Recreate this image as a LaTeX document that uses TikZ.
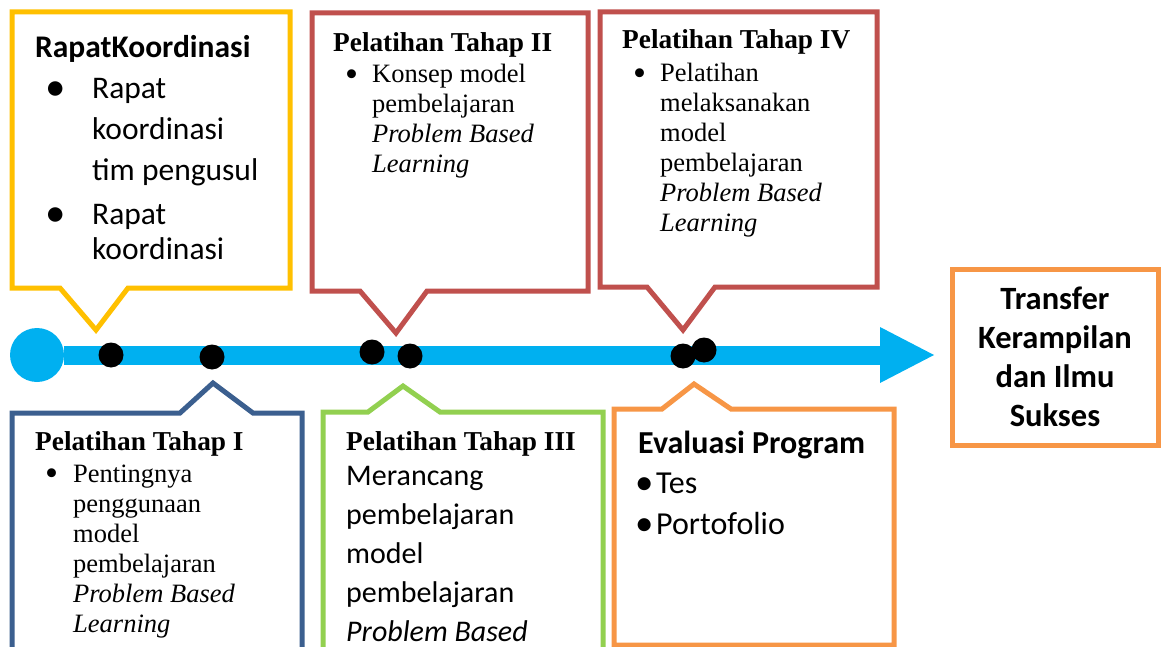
\documentclass[tikz,border=0pt]{standalone}
\usepackage{fontspec}
\setmainfont{Liberation Serif}
\setsansfont{Carlito}
\usepackage{graphicx}
\usepackage{tikz}

\definecolor{lineblue}{HTML}{00B0F0}
\definecolor{boxyellow}{HTML}{FFC000}
\definecolor{boxred}{HTML}{C0504D}
\definecolor{boxblue}{HTML}{3B5F8F}
\definecolor{boxgreen}{HTML}{92D050}
\definecolor{boxorange}{HTML}{F79646}

\newcommand{\serifsize}{\fontsize{26.5}{30}\selectfont}
\newcommand{\sanssize}{\sffamily\fontsize{31.5}{41}\selectfont}
% bullet: indent, box width, scale, lowering
\newcommand{\bul}[4]{\hspace*{#1}\makebox[#2][l]{\raisebox{-#4}{\scalebox{#3}{\textbullet}}}}

\tikzset{
  callout/.style={line width=5pt, line join=miter, fill=white},
  txt/.style={anchor=base west, inner sep=0pt},
  tdot/.style={circle, fill=black, minimum size=25pt, inner sep=0pt}
}

\begin{document}
\begin{tikzpicture}[x=1pt,y=-1pt]
\useasboundingbox (0,0) rectangle (1161,647);
\clip (0,0) rectangle (1161,647);
% callouts above the line:
\path[callout,draw=boxyellow] (12,12) -- (290,12) -- (290,288) -- (128,288) -- (96,330) -- (60,288) -- (12,288) -- cycle;
\path[callout,draw=boxred] (312,13) -- (588,13) -- (588,291) -- (427,291) -- (396,333) -- (360,291) -- (312,291) -- cycle;
\path[callout,draw=boxred] (600,12) -- (877,12) -- (877,287) -- (715,287) -- (683,330) -- (647,287) -- (600,287) -- cycle;
% callouts below the line:
\path[callout,draw=boxblue] (12,700) -- (12,413) -- (180,413) -- (213,383) -- (253,413) -- (302,413) -- (302,700);
\path[callout,draw=boxgreen] (323,700) -- (323,412) -- (368,412) -- (403,386) -- (440,412) -- (603,412) -- (603,700);
\path[callout,draw=boxorange] (614,645) -- (614,409) -- (662,409) -- (694,384) -- (731,409) -- (894,409) -- (894,645) -- cycle;
% result box:
\path[callout,draw=boxorange] (952,269) rectangle (1158,445);

% timeline:
\node[circle, fill=lineblue, minimum size=54pt, inner sep=0pt] (start) at (37,355) {};
\coordinate (headbase) at (880,355);
\coordinate (end) at (934,355);
\draw[lineblue, line width=19pt] (start) -- (headbase);
\fill[lineblue] ([yshift=-28pt]headbase) -- (end) -- ([yshift=28pt]headbase) -- cycle;
\node[tdot] (d1) at (111,355) {};
\node[tdot] (d2) at (212,357) {};
\node[tdot] (d3) at (372,352) {};
\node[tdot] (d4) at (410,356) {};
\node[tdot] (d5) at (683,356) {};
\node[tdot] (d6) at (704,350) {};

% texts:
\node[txt] (rapat) at (35,58) {\parbox[t]{256pt}{\sanssize
  \textbf{RapatKoordinasi}\\
  \bul{10pt}{47pt}{1.3}{1.5pt}Rapat\\
  \hspace*{57pt}koordinasi\\
  \hspace*{57pt}tim pengusul\\[3pt]
  \bul{10pt}{47pt}{1.3}{1.5pt}Rapat\\[-6pt]
  \hspace*{57pt}koordinasi}};
\node[txt] (tahap2) at (333,52) {\parbox[t]{250pt}{\serifsize
  {\fontsize{27.3}{30}\selectfont\textbf{Pelatihan Tahap II}}\\[1pt]
  \bul{12pt}{27pt}{1.4}{3.5pt}Konsep model\\
  \hspace*{39pt}pembelajaran\\
  \hspace*{39pt}\textit{Problem Based}\\
  \hspace*{39pt}\textit{Learning}}};
\node[txt] (tahap4) at (622,49) {\parbox[t]{250pt}{\serifsize
  {\fontsize{27.3}{30}\selectfont\textbf{Pelatihan Tahap IV}}\\[3pt]
  \bul{11pt}{27pt}{1.4}{3.5pt}Pelatihan\\
  \hspace*{38pt}melaksanakan\\
  \hspace*{38pt}model\\
  \hspace*{38pt}pembelajaran\\
  \hspace*{38pt}\textit{Problem Based}\\
  \hspace*{38pt}\textit{Learning}}};
\node[txt] (tahap1) at (35,450) {\parbox[t]{260pt}{\serifsize
  {\fontsize{27.3}{30}\selectfont\textbf{Pelatihan Tahap I}}\\[2pt]
  \bul{10pt}{28pt}{1.4}{3.5pt}Pentingnya\\
  \hspace*{38pt}penggunaan\\
  \hspace*{38pt}model\\
  \hspace*{38pt}pembelajaran\\
  \hspace*{38pt}\textit{Problem Based}\\
  \hspace*{38pt}\textit{Learning}}};
\node[txt] (tahap3) at (346,450) {\parbox[t]{250pt}{\fontsize{30}{39}\selectfont
  {\fontsize{27.3}{30}\selectfont\textbf{Pelatihan Tahap III}}\\[-4pt]
  \sffamily Merancang\\
  pembelajaran\\
  model\\
  pembelajaran\\
  \textit{Problem Based}}};
\node[txt] (evaluasi) at (638,453) {\parbox[t]{250pt}{\sffamily\fontsize{32}{40.5}\selectfont
  \textbf{Evaluasi Program}\\
  \bul{-3pt}{21pt}{1.15}{1pt}Tes\\
  \bul{-3pt}{21pt}{1.15}{1pt}Portofolio}};
\node[anchor=base, inner sep=0pt] (transfer) at (1055,309) {\parbox[t]{200pt}{\centering\sffamily\bfseries\fontsize{32.5}{39.3}\selectfont
  Transfer\\ Kerampilan\\ dan Ilmu\\ Sukses}};
\end{tikzpicture}
\end{document}
